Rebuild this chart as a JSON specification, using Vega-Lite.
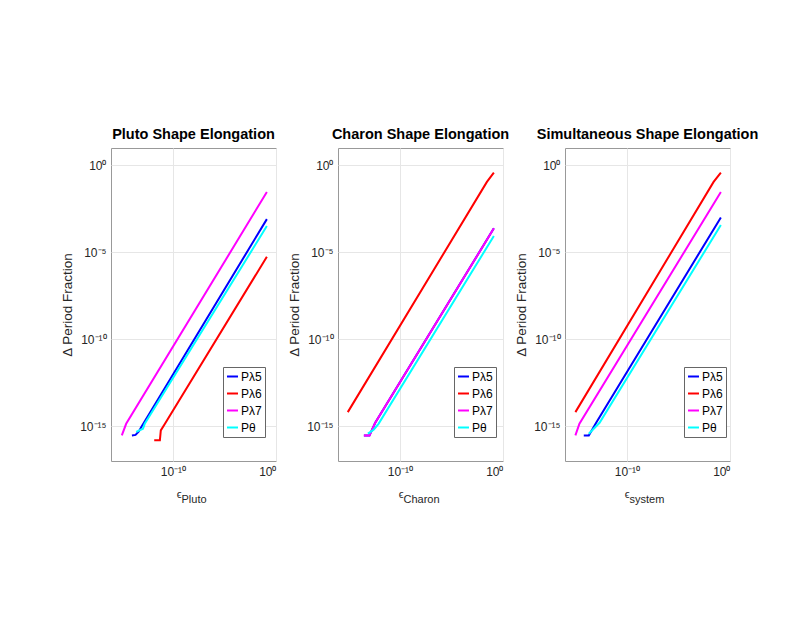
{
  "$schema": "https://vega.github.io/schema/vega-lite/v6.json",
  "background": "white",
  "padding": {"left": 60, "top": 126, "right": 10, "bottom": 10},
  "bounds": "flush",
  "spacing": 62,
  "config": {
    "font": "Liberation Sans",
    "view": {"stroke": "#999999", "strokeWidth": 1},
    "axis": {
      "grid": true,
      "gridColor": "#e6e6e6",
      "ticks": false,
      "domain": false,
      "labelFontSize": 12,
      "labelColor": "#262626",
      "labelPadding": 5,
      "titleColor": "#262626",
      "titleFontWeight": "normal",
      "titleFontSize": 13.5
    },
    "title": {"fontSize": 14.5, "fontWeight": "bold", "color": "black", "frame": "group", "anchor": "middle", "offset": 6},
    "legend": {
      "symbolType": "stroke",
      "symbolStrokeWidth": 2,
      "symbolSize": 120,
      "labelFontSize": 12,
      "labelColor": "black",
      "strokeColor": "#666666",
      "fillColor": "white",
      "padding": 3,
      "rowPadding": 4,
      "labelOffset": 2
    }
  },
  "data": {
    "values": [
      {"panel": "Pluto", "series": "Pλ5", "eps": 1.07e-14, "frac": 2.95e-16},
      {"panel": "Pluto", "series": "Pλ5", "eps": 2.40e-14, "frac": 3.16e-16},
      {"panel": "Pluto", "series": "Pλ5", "eps": 5.01e-14, "frac": 5.01e-16},
      {"panel": "Pluto", "series": "Pλ5", "eps": 8.71e-14, "frac": 8.91e-16},
      {"panel": "Pluto", "series": "Pλ5", "eps": 0.13, "frac": 8.13e-4},
      {"panel": "Pluto", "series": "Pλ6", "eps": 1.55e-12, "frac": 1.55e-16},
      {"panel": "Pluto", "series": "Pλ6", "eps": 5.50e-12, "frac": 1.55e-16},
      {"panel": "Pluto", "series": "Pλ6", "eps": 6.76e-12, "frac": 5.75e-16},
      {"panel": "Pluto", "series": "Pλ6", "eps": 1.70e-11, "frac": 1.38e-15},
      {"panel": "Pluto", "series": "Pλ6", "eps": 0.13, "frac": 5.6e-6},
      {"panel": "Pluto", "series": "Pλ7", "eps": 1.12e-15, "frac": 2.95e-16},
      {"panel": "Pluto", "series": "Pλ7", "eps": 2.95e-15, "frac": 1.38e-15},
      {"panel": "Pluto", "series": "Pλ7", "eps": 0.13, "frac": 0.0295},
      {"panel": "Pluto", "series": "Pθ", "eps": 2.82e-14, "frac": 4.68e-16},
      {"panel": "Pluto", "series": "Pθ", "eps": 1.26e-13, "frac": 7.24e-16},
      {"panel": "Pluto", "series": "Pθ", "eps": 1.86e-13, "frac": 1.38e-15},
      {"panel": "Pluto", "series": "Pθ", "eps": 0.13, "frac": 3.24e-4},

      {"panel": "Charon", "series": "Pλ5", "eps": 3.24e-14, "frac": 2.95e-16},
      {"panel": "Charon", "series": "Pλ5", "eps": 1.12e-13, "frac": 2.95e-16},
      {"panel": "Charon", "series": "Pλ5", "eps": 4.07e-13, "frac": 1.58e-15},
      {"panel": "Charon", "series": "Pλ5", "eps": 0.13, "frac": 2.40e-4},
      {"panel": "Charon", "series": "Pλ6", "eps": 8.91e-16, "frac": 6.46e-15},
      {"panel": "Charon", "series": "Pλ6", "eps": 0.0275, "frac": 0.112},
      {"panel": "Charon", "series": "Pλ6", "eps": 0.13, "frac": 0.38},
      {"panel": "Charon", "series": "Pλ7", "eps": 3.24e-14, "frac": 2.95e-16},
      {"panel": "Charon", "series": "Pλ7", "eps": 1.12e-13, "frac": 2.95e-16},
      {"panel": "Charon", "series": "Pλ7", "eps": 4.07e-13, "frac": 1.58e-15},
      {"panel": "Charon", "series": "Pλ7", "eps": 0.13, "frac": 2.40e-4},
      {"panel": "Charon", "series": "Pθ", "eps": 7.94e-14, "frac": 3.72e-16},
      {"panel": "Charon", "series": "Pθ", "eps": 2.82e-13, "frac": 6.31e-16},
      {"panel": "Charon", "series": "Pθ", "eps": 8.51e-13, "frac": 1.38e-15},
      {"panel": "Charon", "series": "Pθ", "eps": 0.13, "frac": 8.71e-5},

      {"panel": "system", "series": "Pλ5", "eps": 6.61e-15, "frac": 2.95e-16},
      {"panel": "system", "series": "Pλ5", "eps": 2.04e-14, "frac": 2.95e-16},
      {"panel": "system", "series": "Pλ5", "eps": 1.05e-13, "frac": 1.58e-15},
      {"panel": "system", "series": "Pλ5", "eps": 0.13, "frac": 1.02e-3},
      {"panel": "system", "series": "Pλ6", "eps": 1.02e-15, "frac": 6.46e-15},
      {"panel": "system", "series": "Pλ6", "eps": 0.0257, "frac": 0.112},
      {"panel": "system", "series": "Pλ6", "eps": 0.13, "frac": 0.38},
      {"panel": "system", "series": "Pλ7", "eps": 1.02e-15, "frac": 2.95e-16},
      {"panel": "system", "series": "Pλ7", "eps": 2.51e-15, "frac": 1.38e-15},
      {"panel": "system", "series": "Pλ7", "eps": 0.13, "frac": 0.0295},
      {"panel": "system", "series": "Pθ", "eps": 2.04e-14, "frac": 3.72e-16},
      {"panel": "system", "series": "Pθ", "eps": 2.24e-13, "frac": 1.58e-15},
      {"panel": "system", "series": "Pθ", "eps": 0.13, "frac": 3.72e-4}
    ]
  },
  "resolve": {"legend": {"color": "independent"}},
  "hconcat": [
    {
      "title": "Pluto Shape Elongation",
      "width": 165,
      "height": 313,
      "transform": [{"filter": "datum.panel == 'Pluto'"}],
      "resolve": {"axis": {"x": "independent"}},
      "layer": [
        {
          "mark": {"type": "line", "strokeWidth": 2, "clip": true},
          "encoding": {
            "x": {
              "field": "eps",
              "type": "quantitative",
              "scale": {"type": "log", "domain": [1e-16, 1], "nice": false},
              "axis": {
                "values": [1e-10, 1],
                "labelExpr": "'10' + replace(replace(replace(replace('' + round(log(datum.value) / LN10), '-', '⁻'), '0', '⁰'), '1', '¹'), '5', '⁵')",
                "title": "ϵ",
                "titleFontSize": 11,
                "titleAlign": "right",
                "titleBaseline": "alphabetic",
                "titleX": 70,
                "titleY": 36
              }
            },
            "y": {
              "field": "frac",
              "type": "quantitative",
              "scale": {"type": "log", "domain": [1e-17, 10], "nice": false},
              "axis": {
                "values": [1e-15, 1e-10, 1e-5, 1],
                "labelExpr": "'10' + replace(replace(replace(replace('' + round(log(datum.value) / LN10), '-', '⁻'), '0', '⁰'), '1', '¹'), '5', '⁵')",
                "title": "Δ Period Fraction",
                "titlePadding": 5
              }
            },
            "color": {
              "field": "series",
              "type": "nominal",
              "scale": {"domain": ["Pλ5", "Pλ6", "Pλ7", "Pθ"], "range": ["#0000ff", "#ff0000", "#ff00ff", "#00ffff"]},
              "legend": {"title": null, "orient": "none", "legendX": 112, "legendY": 219}
            }
          }
        },
        {
          "mark": {"type": "point", "opacity": 0},
          "encoding": {
            "x": {
              "field": "eps",
              "type": "quantitative",
              "axis": {
                "orient": "bottom",
                "labels": false,
                "grid": false,
                "title": "Pluto",
                "titleFontSize": 11,
                "titleAlign": "left",
                "titleBaseline": "alphabetic",
                "titleX": 70,
                "titleY": 41
              }
            }
          }
        }
      ]
    },
    {
      "title": "Charon Shape Elongation",
      "width": 165,
      "height": 313,
      "transform": [{"filter": "datum.panel == 'Charon'"}],
      "resolve": {"axis": {"x": "independent"}},
      "layer": [
        {
          "mark": {"type": "line", "strokeWidth": 2, "clip": true},
          "encoding": {
            "x": {
              "field": "eps",
              "type": "quantitative",
              "scale": {"type": "log", "domain": [1e-16, 1], "nice": false},
              "axis": {
                "values": [1e-10, 1],
                "labelExpr": "'10' + replace(replace(replace(replace('' + round(log(datum.value) / LN10), '-', '⁻'), '0', '⁰'), '1', '¹'), '5', '⁵')",
                "title": "ϵ",
                "titleFontSize": 11,
                "titleAlign": "right",
                "titleBaseline": "alphabetic",
                "titleX": 65,
                "titleY": 36
              }
            },
            "y": {
              "field": "frac",
              "type": "quantitative",
              "scale": {"type": "log", "domain": [1e-17, 10], "nice": false},
              "axis": {
                "values": [1e-15, 1e-10, 1e-5, 1],
                "labelExpr": "'10' + replace(replace(replace(replace('' + round(log(datum.value) / LN10), '-', '⁻'), '0', '⁰'), '1', '¹'), '5', '⁵')",
                "title": "Δ Period Fraction",
                "titlePadding": 5
              }
            },
            "color": {
              "field": "series",
              "type": "nominal",
              "scale": {"domain": ["Pλ5", "Pλ6", "Pλ7", "Pθ"], "range": ["#0000ff", "#ff0000", "#ff00ff", "#00ffff"]},
              "legend": {"title": null, "orient": "none", "legendX": 116, "legendY": 219}
            }
          }
        },
        {
          "mark": {"type": "point", "opacity": 0},
          "encoding": {
            "x": {
              "field": "eps",
              "type": "quantitative",
              "axis": {
                "orient": "bottom",
                "labels": false,
                "grid": false,
                "title": "Charon",
                "titleFontSize": 11,
                "titleAlign": "left",
                "titleBaseline": "alphabetic",
                "titleX": 65,
                "titleY": 41
              }
            }
          }
        }
      ]
    },
    {
      "title": "Simultaneous Shape Elongation",
      "width": 165,
      "height": 313,
      "transform": [{"filter": "datum.panel == 'system'"}],
      "resolve": {"axis": {"x": "independent"}},
      "layer": [
        {
          "mark": {"type": "line", "strokeWidth": 2, "clip": true},
          "encoding": {
            "x": {
              "field": "eps",
              "type": "quantitative",
              "scale": {"type": "log", "domain": [1e-16, 1], "nice": false},
              "axis": {
                "values": [1e-10, 1],
                "labelExpr": "'10' + replace(replace(replace(replace('' + round(log(datum.value) / LN10), '-', '⁻'), '0', '⁰'), '1', '¹'), '5', '⁵')",
                "title": "ϵ",
                "titleFontSize": 11,
                "titleAlign": "right",
                "titleBaseline": "alphabetic",
                "titleX": 64,
                "titleY": 36
              }
            },
            "y": {
              "field": "frac",
              "type": "quantitative",
              "scale": {"type": "log", "domain": [1e-17, 10], "nice": false},
              "axis": {
                "values": [1e-15, 1e-10, 1e-5, 1],
                "labelExpr": "'10' + replace(replace(replace(replace('' + round(log(datum.value) / LN10), '-', '⁻'), '0', '⁰'), '1', '¹'), '5', '⁵')",
                "title": "Δ Period Fraction",
                "titlePadding": 5
              }
            },
            "color": {
              "field": "series",
              "type": "nominal",
              "scale": {"domain": ["Pλ5", "Pλ6", "Pλ7", "Pθ"], "range": ["#0000ff", "#ff0000", "#ff00ff", "#00ffff"]},
              "legend": {"title": null, "orient": "none", "legendX": 119, "legendY": 219}
            }
          }
        },
        {
          "mark": {"type": "point", "opacity": 0},
          "encoding": {
            "x": {
              "field": "eps",
              "type": "quantitative",
              "axis": {
                "orient": "bottom",
                "labels": false,
                "grid": false,
                "title": "system",
                "titleFontSize": 11,
                "titleAlign": "left",
                "titleBaseline": "alphabetic",
                "titleX": 64,
                "titleY": 41
              }
            }
          }
        }
      ]
    }
  ]
}
